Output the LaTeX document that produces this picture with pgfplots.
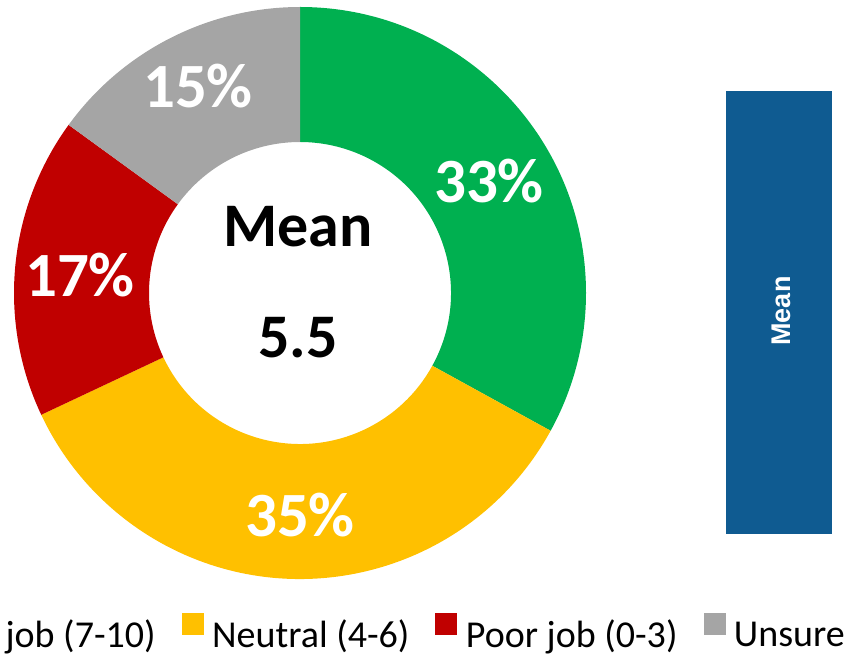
\documentclass[border=0pt]{standalone}
\usepackage{pgfplots}
\usepackage{pgfplotstable}
\pgfplotsset{compat=1.18}
\usepackage{fontspec}
\setmainfont{Carlito}
\newfontfamily\arialfont{Liberation Sans}
\definecolor{cgood}{HTML}{00B050}
\definecolor{cneutral}{HTML}{FFC000}
\definecolor{cpoor}{HTML}{C00000}
\definecolor{cunsure}{HTML}{A5A5A5}
\definecolor{barblue}{HTML}{0F5B91}

\pgfplotstableread{
pct
33
35
17
15
}\donut

\begin{document}
\begin{tikzpicture}
\useasboundingbox (0,0) rectangle (846pt,659pt);
\pgfplotstablegetelem{0}{pct}\of\donut \let\pA\pgfplotsretval
\pgfplotstablegetelem{1}{pct}\of\donut \let\pB\pgfplotsretval
\pgfplotstablegetelem{2}{pct}\of\donut \let\pC\pgfplotsretval
\pgfplotstablegetelem{3}{pct}\of\donut \let\pD\pgfplotsretval
\pgfmathsetmacro\aA{90}
\pgfmathsetmacro\aB{\aA-3.6*\pA}
\pgfmathsetmacro\aC{\aB-3.6*\pB}
\pgfmathsetmacro\aD{\aC-3.6*\pC}
\pgfmathsetmacro\aE{\aD-3.6*\pD}
\begin{axis}[
  at={(0pt,0pt)}, anchor=south west,
  width=846pt, height=659pt, scale only axis,
  xmin=0, xmax=846, ymin=0, ymax=659,
  hide axis, clip=false,
  legend columns=4,
  legend style={draw=none, fill=none, inner sep=0pt,
    at={(axis cs:845,11)}, anchor=south east,
    font=\fontsize{38}{42}\selectfont,
    nodes={inner sep=0pt, text depth=0pt},
    /tikz/every odd column/.append style={column sep=9pt},
    /tikz/every even column/.append style={column sep=26pt}},
]
\newcommand\seg[3]{%
  \fill[#3] (axis cs:300,366) ++(#1:286pt) arc[start angle=#1,end angle=#2,radius=286pt]
     -- ++(#2:-135pt) arc[start angle=#2,end angle=#1,radius=151pt] -- cycle;}
\seg{\aA}{\aB}{cgood}
\seg{\aB}{\aC}{cneutral}
\seg{\aC}{\aD}{cpoor}
\seg{\aD}{\aE}{cunsure}

\addplot[fill=barblue, draw=none, forget plot] coordinates {(726,125) (832,125) (832,568) (726,568)} -- cycle;

\addlegendimage{legend image code/.code={\fill[cgood] (0pt,0pt) rectangle (21pt,21pt);}}
\addlegendentry{Good job (7-10)}
\addlegendimage{legend image code/.code={\fill[cneutral] (0pt,0pt) rectangle (21pt,21pt);}}
\addlegendentry{Neutral (4-6)}
\addlegendimage{legend image code/.code={\fill[cpoor] (0pt,0pt) rectangle (21pt,21pt);}}
\addlegendentry{Poor job (0-3)}
\addlegendimage{legend image code/.code={\fill[cunsure] (0pt,0pt) rectangle (21pt,21pt);}}
\addlegendentry{Unsure}

\begin{scope}[every node/.style={text=white, font=\fontsize{63}{63}\selectfont\bfseries, anchor=base}]
\node at (axis cs:489,456) {\pA\%};
\node at (axis cs:300,123) {\pB\%};
\node at (axis cs:80,362) {\pC\%};
\node at (axis cs:198,551) {\pD\%};
\end{scope}
\node[anchor=base, font=\fontsize{62}{62}\selectfont\bfseries] at (axis cs:298,412) {Mean};
\node[anchor=base, font=\fontsize{62}{62}\selectfont\bfseries] at (axis cs:298,301) {5.5};
\node[anchor=base, rotate=90, text=white, font=\arialfont\fontsize{27}{27}\selectfont\bfseries] at (axis cs:790,348) {Mean};
\end{axis}
\end{tikzpicture}
\end{document}
